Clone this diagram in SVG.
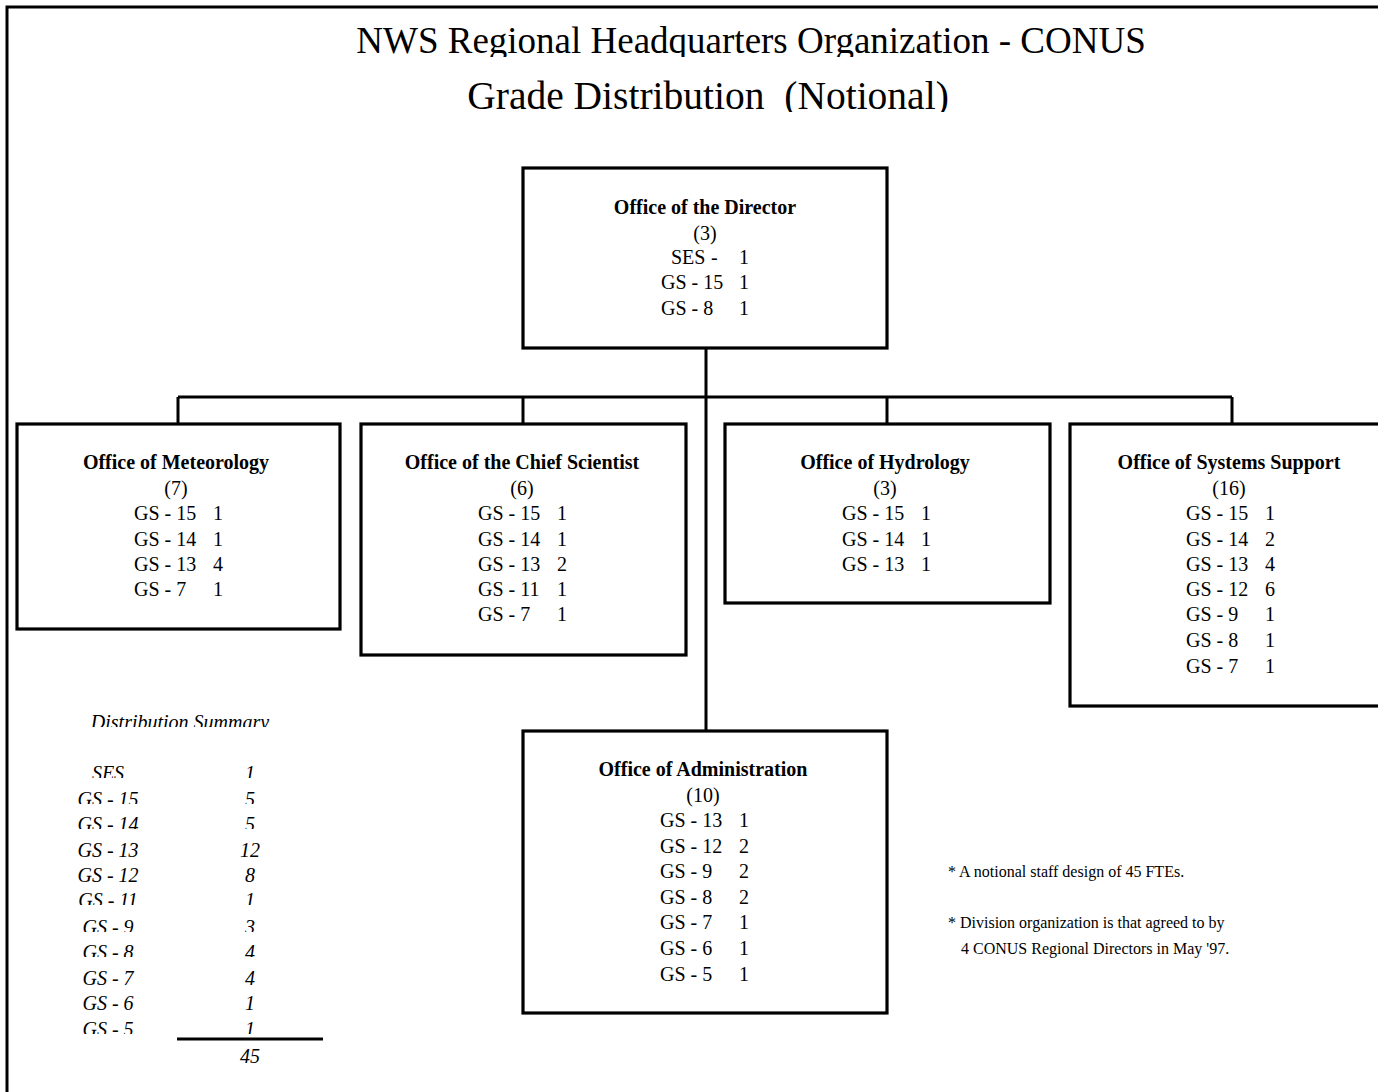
<svg xmlns="http://www.w3.org/2000/svg" width="1378" height="1092" viewBox="0 0 1378 1092">
<style>
.box{fill:#fff;stroke:#000;stroke-width:3.2}
.ln{stroke:#000;stroke-width:3;fill:none}
.t{font-family:"Liberation Serif","Times New Roman",serif;fill:#000}
.title{font-size:37px}
.sub{font-size:39.5px}
.hd{font-size:20px;font-weight:bold;text-anchor:middle}
.ct{font-size:20px;text-anchor:middle}
.r{font-size:20px}
.sm{font-size:20px;font-style:italic;text-anchor:middle}
.nt{font-size:16px}
</style>
<defs>
<clipPath id="c1"><rect x="0" y="0" width="1378" height="57"/></clipPath>
<clipPath id="c2"><rect x="0" y="60" width="1378" height="52"/></clipPath>
<clipPath id="s729"><rect x="0" y="697" width="400" height="30"/></clipPath>
<clipPath id="s780"><rect x="0" y="755" width="400" height="23"/></clipPath>
<clipPath id="s806"><rect x="0" y="784" width="400" height="20"/></clipPath>
<clipPath id="s831"><rect x="0" y="809" width="400" height="20"/></clipPath>
<clipPath id="s907"><rect x="0" y="885" width="400" height="20"/></clipPath>
<clipPath id="s934"><rect x="0" y="912" width="400" height="20"/></clipPath>
<clipPath id="s959"><rect x="0" y="937" width="400" height="20"/></clipPath>
<clipPath id="s1036"><rect x="0" y="1014" width="400" height="20"/></clipPath>
</defs>
<rect width="1378" height="1092" fill="#fff"/>
<g id="frame">
<path class="ln" d="M7,1092 V7 H1378"/>
</g>
<g id="titles">
<text class="t title" x="751" y="53" text-anchor="middle" clip-path="url(#c1)">NWS Regional Headquarters Organization - CONUS</text>
<text class="t sub" x="708" y="109" text-anchor="middle" clip-path="url(#c2)" style="white-space:pre">Grade Distribution  (Notional)</text>
</g>
<g id="connectors">
<path class="ln" d="M706,348 V731"/>
<path class="ln" d="M178,397 H1232"/>
<path class="ln" d="M178,397 V424 M523,397 V424 M887,397 V424 M1232,397 V424"/>
</g>
<g id="director">
<rect class="box" x="523" y="168" width="364" height="180"/>
<text class="t hd" x="705" y="214">Office of the Director</text>
<text class="t ct" x="705" y="240">(3)</text>
<text class="t r"><tspan x="671" y="264">SES</tspan><tspan x="711" y="264">-</tspan><tspan x="739" y="264">1</tspan></text>
<text class="t r"><tspan x="661" y="289">GS - 15</tspan><tspan x="739" y="289">1</tspan></text>
<text class="t r"><tspan x="661" y="315">GS - 8</tspan><tspan x="739" y="315">1</tspan></text>
</g>
<g id="meteorology">
<rect class="box" x="17" y="424" width="323" height="205"/>
<text class="t hd" x="176" y="469">Office of Meteorology</text>
<text class="t ct" x="176" y="495">(7)</text>
<text class="t r"><tspan x="134" y="520">GS - 15</tspan><tspan x="213" y="520">1</tspan></text>
<text class="t r"><tspan x="134" y="546">GS - 14</tspan><tspan x="213" y="546">1</tspan></text>
<text class="t r"><tspan x="134" y="571">GS - 13</tspan><tspan x="213" y="571">4</tspan></text>
<text class="t r"><tspan x="134" y="596">GS - 7</tspan><tspan x="213" y="596">1</tspan></text>
</g>
<g id="chief-scientist">
<rect class="box" x="361" y="424" width="325" height="231"/>
<text class="t hd" x="522" y="469">Office of the Chief Scientist</text>
<text class="t ct" x="522" y="495">(6)</text>
<text class="t r"><tspan x="478" y="520">GS - 15</tspan><tspan x="557" y="520">1</tspan></text>
<text class="t r"><tspan x="478" y="546">GS - 14</tspan><tspan x="557" y="546">1</tspan></text>
<text class="t r"><tspan x="478" y="571">GS - 13</tspan><tspan x="557" y="571">2</tspan></text>
<text class="t r"><tspan x="478" y="596">GS - 11</tspan><tspan x="557" y="596">1</tspan></text>
<text class="t r"><tspan x="478" y="621">GS - 7</tspan><tspan x="557" y="621">1</tspan></text>
</g>
<g id="hydrology">
<rect class="box" x="725" y="424" width="325" height="179"/>
<text class="t hd" x="885" y="469">Office of Hydrology</text>
<text class="t ct" x="885" y="495">(3)</text>
<text class="t r"><tspan x="842" y="520">GS - 15</tspan><tspan x="921" y="520">1</tspan></text>
<text class="t r"><tspan x="842" y="546">GS - 14</tspan><tspan x="921" y="546">1</tspan></text>
<text class="t r"><tspan x="842" y="571">GS - 13</tspan><tspan x="921" y="571">1</tspan></text>
</g>
<g id="systems-support">
<rect class="box" x="1070" y="424" width="316" height="282"/>
<text class="t hd" x="1229" y="469">Office of Systems Support</text>
<text class="t ct" x="1229" y="495">(16)</text>
<text class="t r"><tspan x="1186" y="520">GS - 15</tspan><tspan x="1265" y="520">1</tspan></text>
<text class="t r"><tspan x="1186" y="546">GS - 14</tspan><tspan x="1265" y="546">2</tspan></text>
<text class="t r"><tspan x="1186" y="571">GS - 13</tspan><tspan x="1265" y="571">4</tspan></text>
<text class="t r"><tspan x="1186" y="596">GS - 12</tspan><tspan x="1265" y="596">6</tspan></text>
<text class="t r"><tspan x="1186" y="621">GS - 9</tspan><tspan x="1265" y="621">1</tspan></text>
<text class="t r"><tspan x="1186" y="647">GS - 8</tspan><tspan x="1265" y="647">1</tspan></text>
<text class="t r"><tspan x="1186" y="673">GS - 7</tspan><tspan x="1265" y="673">1</tspan></text>
</g>
<g id="administration">
<rect class="box" x="523" y="731" width="364" height="282"/>
<text class="t hd" x="703" y="776">Office of Administration</text>
<text class="t ct" x="703" y="802">(10)</text>
<text class="t r"><tspan x="660" y="827">GS - 13</tspan><tspan x="739" y="827">1</tspan></text>
<text class="t r"><tspan x="660" y="853">GS - 12</tspan><tspan x="739" y="853">2</tspan></text>
<text class="t r"><tspan x="660" y="878">GS - 9</tspan><tspan x="739" y="878">2</tspan></text>
<text class="t r"><tspan x="660" y="904">GS - 8</tspan><tspan x="739" y="904">2</tspan></text>
<text class="t r"><tspan x="660" y="929">GS - 7</tspan><tspan x="739" y="929">1</tspan></text>
<text class="t r"><tspan x="660" y="955">GS - 6</tspan><tspan x="739" y="955">1</tspan></text>
<text class="t r"><tspan x="660" y="981">GS - 5</tspan><tspan x="739" y="981">1</tspan></text>
</g>
<g id="summary">
<text class="t sm" x="180" y="729" clip-path="url(#s729)">Distribution Summary</text>
<g clip-path="url(#s780)"><text class="t sm" x="108" y="780">SES</text><text class="t sm" x="250" y="780">1</text></g>
<g clip-path="url(#s806)"><text class="t sm" x="108" y="806">GS - 15</text><text class="t sm" x="250" y="806">5</text></g>
<g clip-path="url(#s831)"><text class="t sm" x="108" y="831">GS - 14</text><text class="t sm" x="250" y="831">5</text></g>
<text class="t sm" x="108" y="857">GS - 13</text><text class="t sm" x="250" y="857">12</text>
<text class="t sm" x="108" y="882">GS - 12</text><text class="t sm" x="250" y="882">8</text>
<g clip-path="url(#s907)"><text class="t sm" x="108" y="907">GS - 11</text><text class="t sm" x="250" y="907">1</text></g>
<g clip-path="url(#s934)"><text class="t sm" x="108" y="934">GS - 9</text><text class="t sm" x="250" y="934">3</text></g>
<g clip-path="url(#s959)"><text class="t sm" x="108" y="959">GS - 8</text><text class="t sm" x="250" y="959">4</text></g>
<text class="t sm" x="108" y="985">GS - 7</text><text class="t sm" x="250" y="985">4</text>
<text class="t sm" x="108" y="1010">GS - 6</text><text class="t sm" x="250" y="1010">1</text>
<g clip-path="url(#s1036)"><text class="t sm" x="108" y="1036">GS - 5</text><text class="t sm" x="250" y="1036">1</text></g>
<path class="ln" d="M177,1039 H323"/>
<text class="t sm" x="250" y="1063">45</text>
</g>
<g id="notes">
<text class="t nt" x="948" y="877">* A notional staff design of 45 FTEs.</text>
<text class="t nt" x="948" y="928">* Division organization is that agreed to by</text>
<text class="t nt" x="961" y="954">4 CONUS Regional Directors in May '97.</text>
</g>
</svg>
